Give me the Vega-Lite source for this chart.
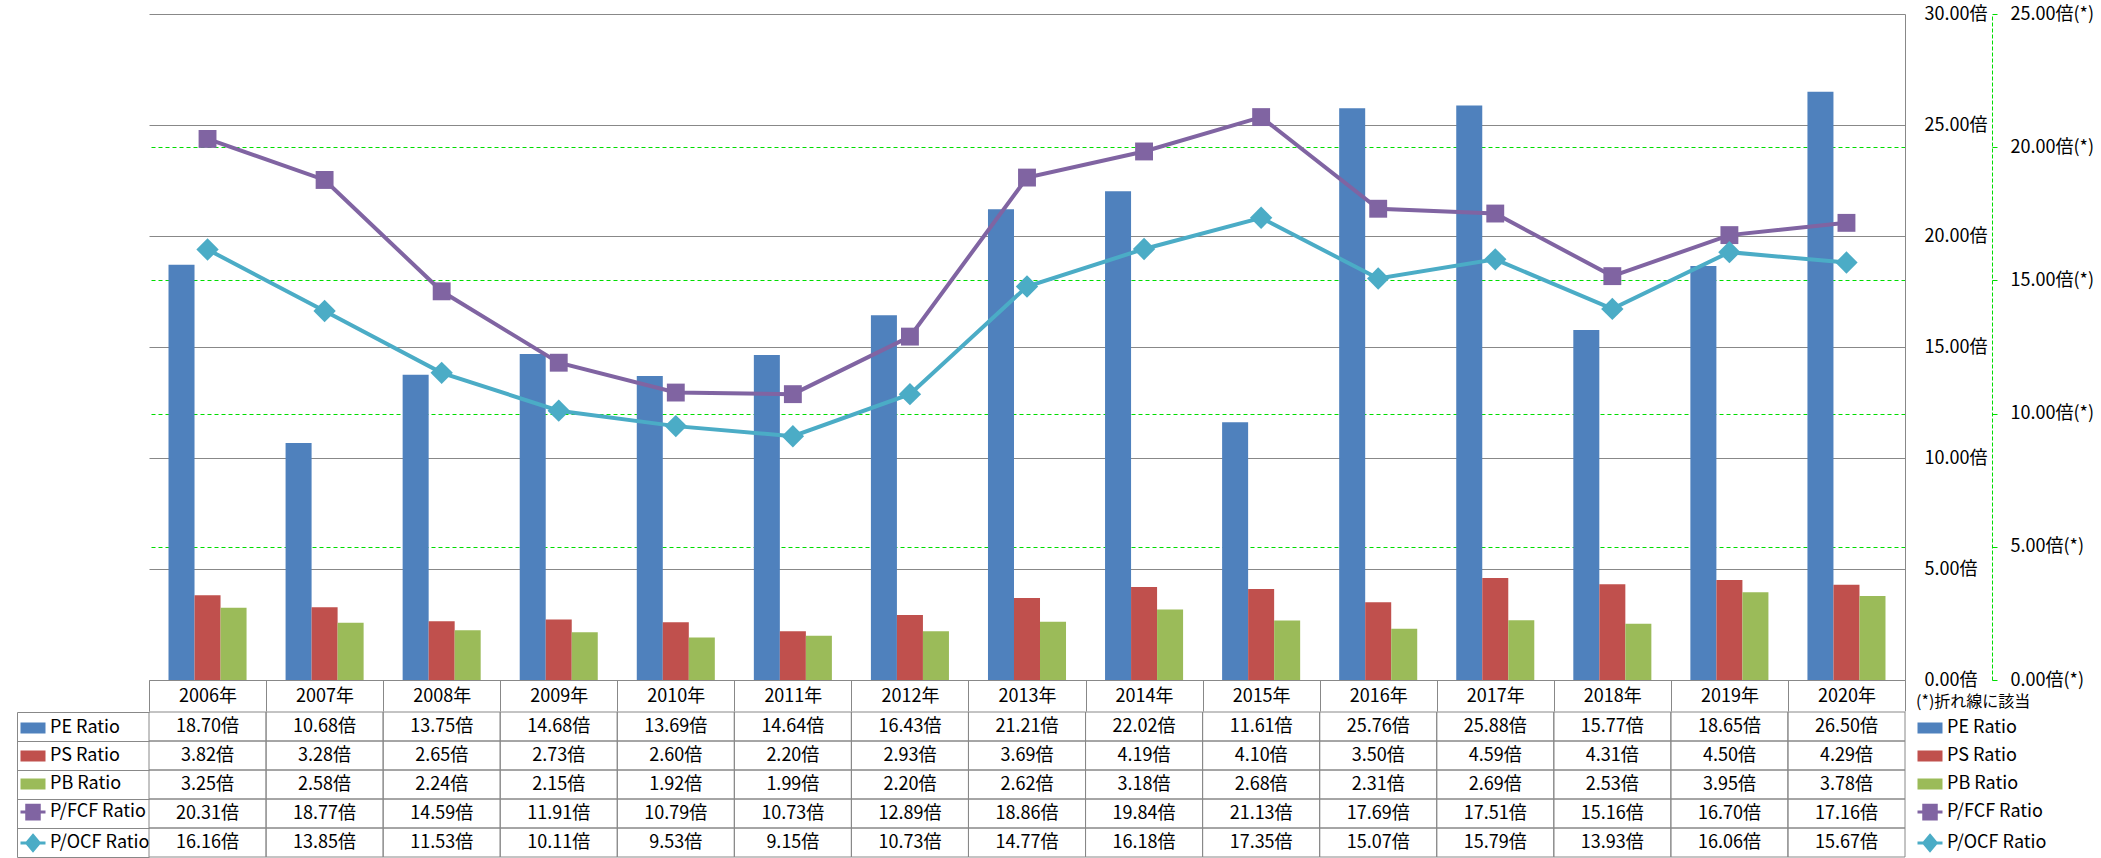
{
  "$schema": "https://vega.github.io/schema/vega-lite/v6.json",
  "width": 1756,
  "height": 666,
  "autosize": {"type": "none"},
  "padding": {"left": 149, "top": 14, "right": 196, "bottom": 178},
  "background": "white",
  "config": {
    "font": "Noto Sans CJK JP",
    "view": {"stroke": null},
    "locale": {"number": {"decimal": ".", "thousands": ",", "grouping": [3], "currency": ["", "倍"]}},
    "axis": {"labelFont": "Noto Sans CJK JP", "labelFontSize": 18, "labelColor": "#000000", "titleFont": "Noto Sans CJK JP"},
    "legend": {"labelFont": "Noto Sans CJK JP", "titleFont": "Noto Sans CJK JP"}
  },
  "datasets": {
    "ratios": [
      {"year": 2006, "series": "PE Ratio", "value": 18.70},
      {"year": 2007, "series": "PE Ratio", "value": 10.68},
      {"year": 2008, "series": "PE Ratio", "value": 13.75},
      {"year": 2009, "series": "PE Ratio", "value": 14.68},
      {"year": 2010, "series": "PE Ratio", "value": 13.69},
      {"year": 2011, "series": "PE Ratio", "value": 14.64},
      {"year": 2012, "series": "PE Ratio", "value": 16.43},
      {"year": 2013, "series": "PE Ratio", "value": 21.21},
      {"year": 2014, "series": "PE Ratio", "value": 22.02},
      {"year": 2015, "series": "PE Ratio", "value": 11.61},
      {"year": 2016, "series": "PE Ratio", "value": 25.76},
      {"year": 2017, "series": "PE Ratio", "value": 25.88},
      {"year": 2018, "series": "PE Ratio", "value": 15.77},
      {"year": 2019, "series": "PE Ratio", "value": 18.65},
      {"year": 2020, "series": "PE Ratio", "value": 26.50},
      {"year": 2006, "series": "PS Ratio", "value": 3.82},
      {"year": 2007, "series": "PS Ratio", "value": 3.28},
      {"year": 2008, "series": "PS Ratio", "value": 2.65},
      {"year": 2009, "series": "PS Ratio", "value": 2.73},
      {"year": 2010, "series": "PS Ratio", "value": 2.60},
      {"year": 2011, "series": "PS Ratio", "value": 2.20},
      {"year": 2012, "series": "PS Ratio", "value": 2.93},
      {"year": 2013, "series": "PS Ratio", "value": 3.69},
      {"year": 2014, "series": "PS Ratio", "value": 4.19},
      {"year": 2015, "series": "PS Ratio", "value": 4.10},
      {"year": 2016, "series": "PS Ratio", "value": 3.50},
      {"year": 2017, "series": "PS Ratio", "value": 4.59},
      {"year": 2018, "series": "PS Ratio", "value": 4.31},
      {"year": 2019, "series": "PS Ratio", "value": 4.50},
      {"year": 2020, "series": "PS Ratio", "value": 4.29},
      {"year": 2006, "series": "PB Ratio", "value": 3.25},
      {"year": 2007, "series": "PB Ratio", "value": 2.58},
      {"year": 2008, "series": "PB Ratio", "value": 2.24},
      {"year": 2009, "series": "PB Ratio", "value": 2.15},
      {"year": 2010, "series": "PB Ratio", "value": 1.92},
      {"year": 2011, "series": "PB Ratio", "value": 1.99},
      {"year": 2012, "series": "PB Ratio", "value": 2.20},
      {"year": 2013, "series": "PB Ratio", "value": 2.62},
      {"year": 2014, "series": "PB Ratio", "value": 3.18},
      {"year": 2015, "series": "PB Ratio", "value": 2.68},
      {"year": 2016, "series": "PB Ratio", "value": 2.31},
      {"year": 2017, "series": "PB Ratio", "value": 2.69},
      {"year": 2018, "series": "PB Ratio", "value": 2.53},
      {"year": 2019, "series": "PB Ratio", "value": 3.95},
      {"year": 2020, "series": "PB Ratio", "value": 3.78},
      {"year": 2006, "series": "P/FCF Ratio", "value": 20.31},
      {"year": 2007, "series": "P/FCF Ratio", "value": 18.77},
      {"year": 2008, "series": "P/FCF Ratio", "value": 14.59},
      {"year": 2009, "series": "P/FCF Ratio", "value": 11.91},
      {"year": 2010, "series": "P/FCF Ratio", "value": 10.79},
      {"year": 2011, "series": "P/FCF Ratio", "value": 10.73},
      {"year": 2012, "series": "P/FCF Ratio", "value": 12.89},
      {"year": 2013, "series": "P/FCF Ratio", "value": 18.86},
      {"year": 2014, "series": "P/FCF Ratio", "value": 19.84},
      {"year": 2015, "series": "P/FCF Ratio", "value": 21.13},
      {"year": 2016, "series": "P/FCF Ratio", "value": 17.69},
      {"year": 2017, "series": "P/FCF Ratio", "value": 17.51},
      {"year": 2018, "series": "P/FCF Ratio", "value": 15.16},
      {"year": 2019, "series": "P/FCF Ratio", "value": 16.70},
      {"year": 2020, "series": "P/FCF Ratio", "value": 17.16},
      {"year": 2006, "series": "P/OCF Ratio", "value": 16.16},
      {"year": 2007, "series": "P/OCF Ratio", "value": 13.85},
      {"year": 2008, "series": "P/OCF Ratio", "value": 11.53},
      {"year": 2009, "series": "P/OCF Ratio", "value": 10.11},
      {"year": 2010, "series": "P/OCF Ratio", "value": 9.53},
      {"year": 2011, "series": "P/OCF Ratio", "value": 9.15},
      {"year": 2012, "series": "P/OCF Ratio", "value": 10.73},
      {"year": 2013, "series": "P/OCF Ratio", "value": 14.77},
      {"year": 2014, "series": "P/OCF Ratio", "value": 16.18},
      {"year": 2015, "series": "P/OCF Ratio", "value": 17.35},
      {"year": 2016, "series": "P/OCF Ratio", "value": 15.07},
      {"year": 2017, "series": "P/OCF Ratio", "value": 15.79},
      {"year": 2018, "series": "P/OCF Ratio", "value": 13.93},
      {"year": 2019, "series": "P/OCF Ratio", "value": 16.06},
      {"year": 2020, "series": "P/OCF Ratio", "value": 15.67}
    ]
  },
  "data": {"name": "ratios"},
  "layer": [
    {
      "transform": [{"filter": {"field": "series", "oneOf": ["PE Ratio", "PS Ratio", "PB Ratio"]}}],
      "mark": {"type": "bar"},
      "encoding": {
        "x": {
          "field": "year", "type": "ordinal", "title": null,
          "scale": {"domain": [2006, 2007, 2008, 2009, 2010, 2011, 2012, 2013, 2014, 2015, 2016, 2017, 2018, 2019, 2020], "paddingInner": 0, "paddingOuter": 0},
          "axis": {"orient": "bottom", "title": null, "labelExpr": "datum.label ? datum.label + '年' : ''", "labelAngle": 0, "tickBand": "extent", "tickSize": 31, "tickColor": "#888888", "domainColor": "#888888", "labelPadding": -15, "labelBaseline": "middle", "labelAlign": "center", "labelFontSize": 18, "labelColor": "#000000", "grid": false}
        },
        "xOffset": {"field": "series", "type": "nominal", "scale": {"domain": ["PE Ratio", "PS Ratio", "PB Ratio"], "paddingInner": 0, "paddingOuter": 0.75}},
        "y": {
          "field": "value", "type": "quantitative", "title": null,
          "scale": {"domain": [0, 30]},
          "axis": {"orient": "right", "values": [0, 5, 10, 15, 20, 25, 30], "labelExpr": "format(datum.value, '.2f') + '倍'", "ticks": false, "domain": true, "domainColor": "#888888", "labelAlign": "left", "labelPadding": 19, "grid": true, "gridColor": "#888888", "gridWidth": 1, "title": null}
        },
        "color": {"field": "series", "type": "nominal", "scale": {"domain": ["PE Ratio", "PS Ratio", "PB Ratio"], "range": ["#4F81BD", "#C0504D", "#9BBB59"]}, "legend": null}
      }
    },
    {
      "transform": [{"filter": {"field": "series", "oneOf": ["P/FCF Ratio", "P/OCF Ratio"]}}],
      "encoding": {
        "x": {"field": "year", "type": "ordinal", "title": null, "bandPosition": 0.5},
        "y": {
          "field": "value", "type": "quantitative", "title": null,
          "scale": {"domain": [0, 25]},
          "axis": {"orient": "right", "offset": 87, "values": [0, 5, 10, 15, 20, 25], "labelExpr": "format(datum.value, '.2f') + '倍(*)'", "ticks": true, "tickSize": 5, "tickColor": "#00dd00", "domainColor": "#00dd00", "domainDash": [4, 2], "labelAlign": "left", "labelPadding": 13, "grid": true, "gridColor": "#00dd00", "gridDash": [4, 3], "gridOpacity": {"condition": {"test": "datum.value === 0 || datum.value === 25", "value": 0}, "value": 1}, "title": null}
        },
        "color": {"field": "series", "type": "nominal", "scale": {"domain": ["P/FCF Ratio", "P/OCF Ratio"], "range": ["#8064A2", "#4BACC6"]}, "legend": null}
      },
      "layer": [
        {"mark": {"type": "line", "strokeWidth": 4}},
        {
          "mark": {"type": "point", "filled": true, "opacity": 1},
          "encoding": {
            "shape": {"field": "series", "type": "nominal", "scale": {"domain": ["P/FCF Ratio", "P/OCF Ratio"], "range": ["square", "diamond"]}, "legend": null},
            "size": {"field": "series", "type": "nominal", "scale": {"domain": ["P/FCF Ratio", "P/OCF Ratio"], "range": [320, 500]}, "legend": null}
          }
        }
      ]
    },
    {
      "encoding": {
        "x": {"field": "year", "type": "ordinal", "title": null},
        "y": {
          "field": "series", "type": "nominal", "title": null,
          "scale": {"domain": ["PE Ratio", "PS Ratio", "PB Ratio", "P/FCF Ratio", "P/OCF Ratio"], "range": [698, 843], "paddingInner": 0, "paddingOuter": 0},
          "axis": {"orient": "left", "offset": 132, "tickSize": -132, "tickBand": "extent", "labels": false, "domainColor": "#888888", "tickColor": "#888888", "title": null, "grid": false}
        }
      },
      "layer": [
        {"mark": {"type": "rect", "fill": "#ffffff", "fillOpacity": 0, "stroke": "#888888", "strokeWidth": 1}},
        {
          "mark": {"type": "text", "fontSize": 18, "baseline": "middle", "align": "center", "color": "#000000", "font": "Noto Sans CJK JP"},
          "encoding": {"text": {"field": "value", "type": "quantitative", "format": "$.2f"}}
        }
      ]
    },
    {
      "mark": {"type": "point", "filled": true, "opacity": 0},
      "encoding": {
        "fill": {"field": "series", "type": "nominal",
          "scale": {"domain": ["PE Ratio", "PS Ratio", "PB Ratio", "P/FCF Ratio", "P/OCF Ratio"], "range": ["#4F81BD", "#C0504D", "#9BBB59", "#8064A2", "#4BACC6"]},
          "legend": {"orient": "none", "legendX": -130, "legendY": 700, "title": null, "direction": "vertical", "symbolSize": 625, "symbolStrokeWidth": 3, "symbolOpacity": 1, "labelFontSize": 18, "labelColor": "#000000", "labelOffset": 3, "rowPadding": 4, "padding": 0}},
        "stroke": {"field": "series", "type": "nominal",
          "scale": {"domain": ["PE Ratio", "PS Ratio", "PB Ratio", "P/FCF Ratio", "P/OCF Ratio"], "range": ["#4F81BD", "#C0504D", "#9BBB59", "#8064A2", "#4BACC6"]},
          "legend": {"orient": "none", "legendX": -130, "legendY": 700, "title": null, "direction": "vertical", "symbolSize": 625, "symbolStrokeWidth": 3, "symbolOpacity": 1, "labelFontSize": 18, "labelColor": "#000000", "labelOffset": 3, "rowPadding": 4, "padding": 0}},
        "shape": {"field": "series", "type": "nominal",
          "scale": {"domain": ["PE Ratio", "PS Ratio", "PB Ratio", "P/FCF Ratio", "P/OCF Ratio"], "range": ["M-0.88,-0.32H0.88V0.32H-0.88Z", "M-0.88,-0.32H0.88V0.32H-0.88Z", "M-0.88,-0.32H0.88V0.32H-0.88Z", "M-1,0H1M-0.5,-0.55H0.5V0.55H-0.5Z", "M-1,0H1M0,-0.6L0.5,0L0,0.6L-0.5,0Z"]},
          "legend": {"orient": "none", "legendX": -130, "legendY": 700, "title": null, "direction": "vertical", "symbolSize": 625, "symbolStrokeWidth": 3, "symbolOpacity": 1, "labelFontSize": 18, "labelColor": "#000000", "labelOffset": 3, "rowPadding": 4, "padding": 0}}
      }
    },
    {
      "data": {"values": [{"series": "PE Ratio"}, {"series": "PS Ratio"}, {"series": "PB Ratio"}, {"series": "P/FCF Ratio"}, {"series": "P/OCF Ratio"}]},
      "mark": {"type": "point", "filled": true, "opacity": 0},
      "encoding": {
        "fill": {"field": "series", "type": "nominal", "sort": null,
          "scale": {"range": ["#4F81BD", "#C0504D", "#9BBB59", "#8064A2", "#4BACC6"]},
          "legend": {"orient": "none", "legendX": 1767, "legendY": 680, "title": "(*)折れ線に該当", "titleFontSize": 16, "titleFontWeight": "normal", "titleColor": "#000000", "titlePadding": 4, "direction": "vertical", "symbolSize": 625, "symbolStrokeWidth": 3, "symbolOpacity": 1, "labelFontSize": 18, "labelColor": "#000000", "labelOffset": 3, "rowPadding": 4, "padding": 0}},
        "stroke": {"field": "series", "type": "nominal", "sort": null,
          "scale": {"range": ["#4F81BD", "#C0504D", "#9BBB59", "#8064A2", "#4BACC6"]},
          "legend": {"orient": "none", "legendX": 1767, "legendY": 680, "title": "(*)折れ線に該当", "titleFontSize": 16, "titleFontWeight": "normal", "titleColor": "#000000", "titlePadding": 4, "direction": "vertical", "symbolSize": 625, "symbolStrokeWidth": 3, "symbolOpacity": 1, "labelFontSize": 18, "labelColor": "#000000", "labelOffset": 3, "rowPadding": 4, "padding": 0}},
        "shape": {"field": "series", "type": "nominal", "sort": null,
          "scale": {"range": ["M-0.88,-0.32H0.88V0.32H-0.88Z", "M-0.88,-0.32H0.88V0.32H-0.88Z", "M-0.88,-0.32H0.88V0.32H-0.88Z", "M-1,0H1M-0.5,-0.55H0.5V0.55H-0.5Z", "M-1,0H1M0,-0.6L0.5,0L0,0.6L-0.5,0Z"]},
          "legend": {"orient": "none", "legendX": 1767, "legendY": 680, "title": "(*)折れ線に該当", "titleFontSize": 16, "titleFontWeight": "normal", "titleColor": "#000000", "titlePadding": 4, "direction": "vertical", "symbolSize": 625, "symbolStrokeWidth": 3, "symbolOpacity": 1, "labelFontSize": 18, "labelColor": "#000000", "labelOffset": 3, "rowPadding": 4, "padding": 0}}
      }
    }
  ],
  "resolve": {"scale": {"y": "independent", "color": "independent", "shape": "independent", "fill": "independent", "stroke": "independent", "size": "independent"}}
}
